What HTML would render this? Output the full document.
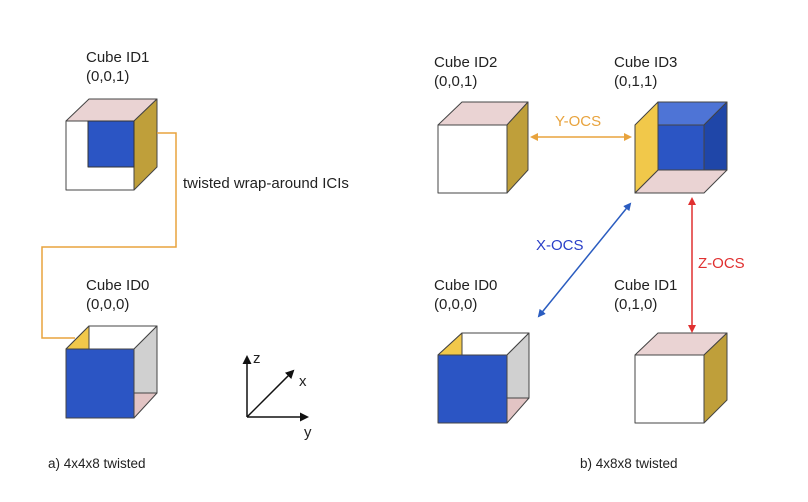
<!DOCTYPE html>
<html><head><meta charset="utf-8"><style>
html,body{margin:0;padding:0;background:#fff}
svg{display:block}
text{font-family:"Liberation Sans",Arial,sans-serif;fill:#222}
</style></head><body>
<svg width="808" height="502" viewBox="0 0 808 502" xmlns="http://www.w3.org/2000/svg">
<defs>
<marker id="ao" markerWidth="8" markerHeight="8" refX="6" refY="4" orient="auto-start-reverse" markerUnits="userSpaceOnUse"><path d="M0,0 L8,4 L0,8 Z" fill="#e8a33d"/></marker>
<marker id="ab" markerWidth="8" markerHeight="8" refX="6" refY="4" orient="auto-start-reverse" markerUnits="userSpaceOnUse"><path d="M0,0 L8,4 L0,8 Z" fill="#2a5cc0"/></marker>
<marker id="ar" markerWidth="8" markerHeight="8" refX="6" refY="4" orient="auto-start-reverse" markerUnits="userSpaceOnUse"><path d="M0,0 L8,4 L0,8 Z" fill="#e03030"/></marker>
<marker id="ak" markerWidth="9" markerHeight="9" refX="7" refY="4.5" orient="auto" markerUnits="userSpaceOnUse"><path d="M0,0 L9,4.5 L0,9 Z" fill="#111"/></marker>
</defs>
<g stroke="#444" stroke-width="1" stroke-linejoin="round">
<polygon points="66,121 89,99 157,99 134,121" fill="#ead3d3"/>
<polygon points="134,121 157,99 157,167 134,190" fill="#bf9f3a"/>
<rect x="66" y="121" width="68" height="69" fill="#fff"/>
<rect x="88" y="121" width="46" height="46" fill="#2b55c4" stroke="#333"/>
<polygon points="66,349 89,326 157,326 134,349" fill="#fff"/>
<polygon points="66,349 89,326 89,349" fill="#f1c84a"/>
<polygon points="134,349 157,326 157,393 134,393" fill="#d0d0d0"/>
<polygon points="134,393 157,393 134,418" fill="#e2c4c4"/>
<rect x="66" y="349" width="68" height="69" fill="#2b55c4"/>
<polygon points="438,125 462,102 528,102 507,125" fill="#ead3d3"/>
<polygon points="507,125 528,102 528,170 507,193" fill="#bf9f3a"/>
<rect x="438" y="125" width="69" height="68" fill="#fff"/>
<polygon points="658,102 727,102 704,125 658,125" fill="#4e74d6"/>
<polygon points="704,125 727,102 727,170 704,170" fill="#1f46a8"/>
<rect x="658" y="125" width="46" height="45" fill="#2b55c4"/>
<polygon points="635,193 658,170 727,170 704,193" fill="#ead3d3"/>
<polygon points="635,125 658,102 658,170 635,193" fill="#f1c84a"/>
<polygon points="438,355 462,333 529,333 507,355" fill="#fff"/>
<polygon points="438,355 462,333 462,355" fill="#f1c84a"/>
<polygon points="507,355 529,333 529,398 507,398" fill="#d0d0d0"/>
<polygon points="507,398 529,398 507,423" fill="#e2c4c4"/>
<rect x="438" y="355" width="69" height="68" fill="#2b55c4"/>
<polygon points="635,355 658,333 727,333 704,355" fill="#ead3d3"/>
<polygon points="704,355 727,333 727,400 704,423" fill="#bf9f3a"/>
<rect x="635" y="355" width="69" height="68" fill="#fff"/>
</g>
<polyline points="157,133 176,133 176,247 42,247 42,338 75,338" fill="none" stroke="#e8a33d" stroke-width="1.5"/>
<line x1="532" y1="137" x2="630" y2="137" stroke="#e8a33d" stroke-width="1.5" marker-start="url(#ao)" marker-end="url(#ao)"/>
<line x1="630" y1="204" x2="539" y2="316" stroke="#2a5cc0" stroke-width="1.5" marker-start="url(#ab)" marker-end="url(#ab)"/>
<line x1="692" y1="199" x2="692" y2="331" stroke="#e03030" stroke-width="1.5" marker-start="url(#ar)" marker-end="url(#ar)"/>
<g stroke="#111" stroke-width="1.5">
<line x1="247" y1="417" x2="247" y2="357" marker-end="url(#ak)"/>
<line x1="247" y1="417" x2="293" y2="371" marker-end="url(#ak)"/>
<line x1="247" y1="417" x2="307" y2="417" marker-end="url(#ak)"/>
</g>
<text x="253" y="363" font-size="15">z</text>
<text x="299" y="386" font-size="15">x</text>
<text x="304" y="437" font-size="15">y</text>
<g font-size="15">
<text x="86" y="62">Cube ID1</text><text x="86" y="81">(0,0,1)</text>
<text x="86" y="290">Cube ID0</text><text x="86" y="309">(0,0,0)</text>
<text x="434" y="67">Cube ID2</text><text x="434" y="86">(0,0,1)</text>
<text x="614" y="67">Cube ID3</text><text x="614" y="86">(0,1,1)</text>
<text x="434" y="290">Cube ID0</text><text x="434" y="309">(0,0,0)</text>
<text x="614" y="290">Cube ID1</text><text x="614" y="309">(0,1,0)</text>
<text x="555" y="126" style="fill:#e8a33d">Y-OCS</text>
<text x="536" y="250" style="fill:#2a3fc8">X-OCS</text>
<text x="698" y="268" style="fill:#e03030">Z-OCS</text>
</g>
<text x="183" y="188" font-size="15">twisted wrap-around ICIs</text>
<text x="48" y="468" font-size="13.5">a) 4x4x8 twisted</text>
<text x="580" y="468" font-size="13.5">b) 4x8x8 twisted</text>
</svg>
</body></html>
